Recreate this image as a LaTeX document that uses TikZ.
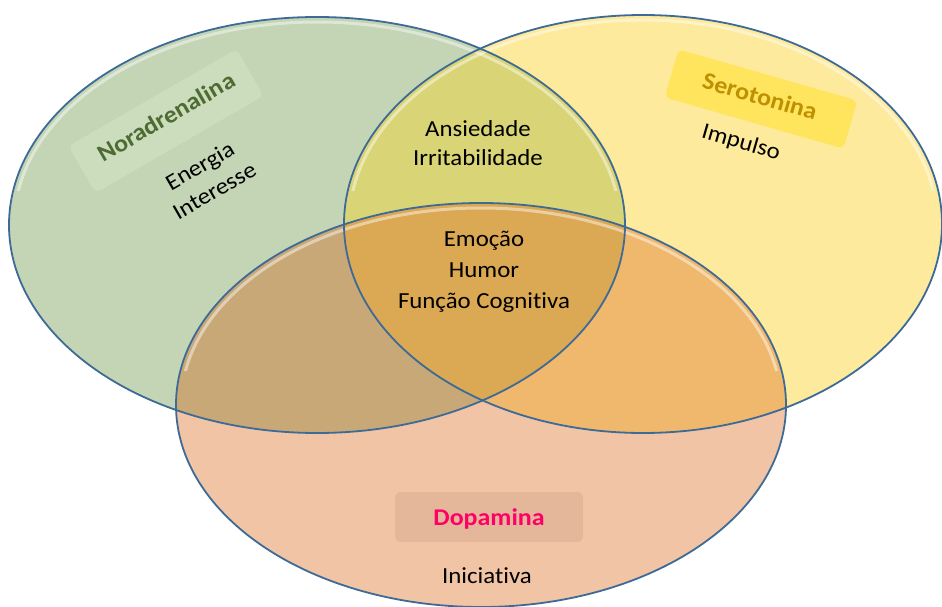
\documentclass[tikz,border=0pt]{standalone}
\usepackage{fontspec}
\setmainfont{Carlito}[FakeStretch=1.08, Ligatures=NoCommon]
\definecolor{gonly}{HTML}{C3D5B5}
\definecolor{yonly}{HTML}{FEEA9C}
\definecolor{oonly}{HTML}{F0C4A5}
\definecolor{gy}{HTML}{D9D476}
\definecolor{go}{HTML}{C9A878}
\definecolor{yo}{HTML}{EFB86C}
\definecolor{gyo}{HTML}{DBA853}
\definecolor{edge}{HTML}{3D6A96}
\definecolor{noracol}{HTML}{4F6B34}
\definecolor{norabox}{HTML}{CDE0C0}
\definecolor{serocol}{HTML}{BF9000}
\definecolor{serobox}{HTML}{FFE45E}
\definecolor{dopacol}{HTML}{FF0066}
\definecolor{dopabox}{HTML}{E4B79A}
\newcommand{\ellG}{(317,225) ellipse [x radius=308, y radius=208]}
\newcommand{\ellY}{(643,224) ellipse [x radius=299, y radius=209]}
\newcommand{\ellO}{(481,405) ellipse [x radius=305, y radius=202]}
\newcommand{\glG}{(317,225) ellipse [x radius=303, y radius=203]}
\newcommand{\glY}{(643,224) ellipse [x radius=294, y radius=204]}
\newcommand{\glO}{(481,405) ellipse [x radius=300, y radius=197]}
\begin{document}
\begin{tikzpicture}[x=1pt,y=-1pt,
  outline/.style={draw=edge, line width=1.8pt},
  glow/.style={draw=white, line width=3pt, draw opacity=0.45},
  txt/.style={font=\fontsize{23}{29}\selectfont, align=center, text=black, inner sep=0pt},
  ttl/.style={font=\fontsize{24}{28}\selectfont\bfseries, inner sep=0pt},
  tagbox/.style={rounded corners=6pt, inner sep=0pt}]
\useasboundingbox (0,0) rectangle (942,607);
\clip (0,0) rectangle (942,607);
% base fills
\fill[gonly] \ellG;
\fill[yonly] \ellY;
\fill[oonly] \ellO;
% pairwise overlaps
\begin{scope}\clip \ellG; \fill[gy] \ellY; \end{scope}
\begin{scope}\clip \ellG; \fill[go] \ellO; \end{scope}
\begin{scope}\clip \ellY; \fill[yo] \ellO; \end{scope}
\begin{scope}\clip \ellG; \clip \ellY; \fill[gyo] \ellO; \end{scope}
% top glows
\begin{scope}\clip (0,0) rectangle (942,190); \draw[glow] \glG; \draw[glow] \glY; \end{scope}
\begin{scope}\clip (0,0) rectangle (942,370); \draw[glow] \glO; \end{scope}
% outlines
\draw[outline] \ellG;
\draw[outline] \ellY;
\draw[outline] \ellO;
% tag boxes
\node[tagbox, fill=norabox, fill opacity=0.8, minimum width=194pt, minimum height=54pt, rotate=30] (norabg) at (166,121) {};
\node[tagbox, fill=serobox, minimum width=186pt, minimum height=50pt, rotate=-16] (serobg) at (761,99) {};
\node[tagbox, fill=dopabox, minimum width=188pt, minimum height=50pt] (dopabg) at (489,517) {};
% titles
\node[ttl, text=noracol, rotate=30] (nora) at (166,117) {Noradrenalina};
\node[ttl, text=serocol, rotate=-16] (sero) at (760,96) {Serotonina};
\node[ttl, text=dopacol] (dopa) at (489,519) {Dopamina};
% contents
\node[txt, rotate=30] (nortxt) at (207,178) {Energia\\Interesse};
\node[txt, rotate=-16] (impulso) at (741,143) {Impulso};
\node[txt] (gytxt) at (478,143) {Ansiedade\\Irritabilidade};
\node[txt, font=\fontsize{23}{31}\selectfont] (center) at (484,272) {Emoção\\Humor\\Função Cognitiva};
\node[txt] (inic) at (487,576) {Iniciativa};
\end{tikzpicture}
\end{document}
